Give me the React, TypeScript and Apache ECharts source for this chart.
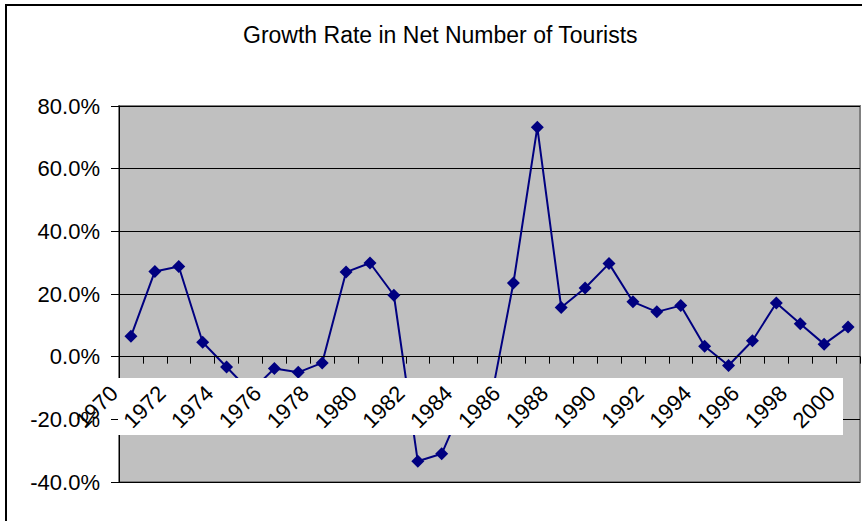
import React, { useEffect, useRef } from "react";
import * as echarts from "echarts";

const years: string[] = [
  "1970", "1971", "1972", "1973", "1974", "1975", "1976", "1977", "1978", "1979",
  "1980", "1981", "1982", "1983", "1984", "1985", "1986", "1987", "1988", "1989",
  "1990", "1991", "1992", "1993", "1994", "1995", "1996", "1997", "1998", "1999",
  "2000",
];

const growthRate: number[] = [
  6.5, 27.2, 28.8, 4.6, -3.3, -11.2, -3.8, -5.0, -2.0, 27.0,
  29.9, 19.6, -33.4, -31.0, -13.5, -16.1, 23.5, 73.2, 15.7, 21.9,
  29.7, 17.5, 14.3, 16.3, 3.3, -2.8, 5.1, 17.1, 10.5, 4.0,
  9.5,
];

const yMin = -40;
const yMax = 80;
const yStep = 20;

const titleText = "Growth Rate in Net Number of Tourists";
const FONT = "'Liberation Sans', Arial, Helvetica, sans-serif";

const GRID_TOP = 106;
const GRID_BOTTOM_PX = 482;

export default function App() {
  const ref = useRef<HTMLDivElement>(null);

  useEffect(() => {
    if (!ref.current) return;
    const chart = echarts.init(ref.current, undefined, { renderer: "svg" });
    const plotH = GRID_BOTTOM_PX - GRID_TOP;
    const zeroFromBottom = (plotH * (0 - yMin)) / (yMax - yMin);
    chart.setOption({
      animation: false,
      backgroundColor: "#ffffff",
      title: {
        text: titleText,
        left: 243,
        top: 23,
        padding: 0,
        textStyle: {
          fontFamily: FONT,
          fontSize: 23,
          fontWeight: "normal",
          color: "#000000",
        },
      },
      grid: {
        left: 119,
        right: 7,
        top: GRID_TOP,
        bottom: 521 - GRID_BOTTOM_PX,
        outerBoundsMode: "none",
        containLabel: false,
        show: true,
        backgroundColor: "#c0c0c0",
        borderColor: "#808080",
        borderWidth: 2,
      },
      xAxis: {
        type: "category",
        data: years,
        boundaryGap: true,
        position: "bottom",
        offset: -zeroFromBottom,
        z: 5,
        axisLine: { onZero: false, lineStyle: { color: "#000000", width: 1 } },
        axisTick: { show: true, interval: 0, length: 7, lineStyle: { color: "#000000" } },
        axisLabel: {
          interval: 1,
          rotate: 45,
          margin: 16,
          padding: [0, 24, 0, 0],
          fontFamily: FONT,
          fontSize: 22,
          color: "#000000",
          hideOverlap: false,
        },
        splitLine: { show: false },
      },
      yAxis: {
        type: "value",
        min: yMin,
        max: yMax,
        interval: yStep,
        axisLine: { show: true, lineStyle: { color: "#000000", width: 1 } },
        axisTick: { show: true, length: 8, lineStyle: { color: "#000000" } },
        axisLabel: {
          margin: 19,
          fontFamily: FONT,
          fontSize: 22,
          color: "#000000",
          formatter: (v: number) => v.toFixed(1) + "%",
        },
        splitLine: { show: true, lineStyle: { color: "#000000", width: 1 } },
      },
      graphic: [
        {
          type: "polyline",
          z: 10,
          shape: { points: [[6, 521], [6, 5], [862, 5]] },
          style: { stroke: "#000000", lineWidth: 2, fill: "none" },
        },
        {
          type: "rect",
          z: 3,
          shape: { x: 118, y: 378, width: 725, height: 57 },
          style: { fill: "#ffffff" },
        },
      ],
      series: [
        {
          type: "line",
          data: growthRate,
          z: 2,
          symbol: "diamond",
          symbolSize: 13,
          itemStyle: { color: "#000080" },
          lineStyle: { color: "#000080", width: 2 },
        },
      ],
    });
    return () => chart.dispose();
  }, []);

  return (
    <div
      ref={ref}
      style={{ position: "absolute", left: 0, top: 0, width: 867, height: 521 }}
    />
  );
}
